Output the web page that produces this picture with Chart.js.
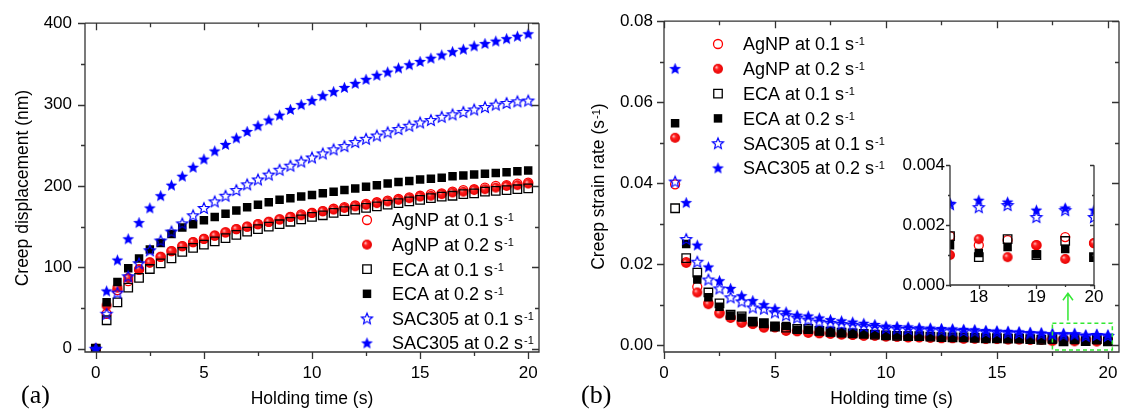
<!DOCTYPE html>
<html>
<head>
<meta charset="utf-8">
<script src="https://cdn.jsdelivr.net/npm/chart.js@4.4.1/dist/chart.umd.min.js"></script>
<style>
html, body { margin: 0; padding: 0; background: #fff; }
#wrap { position: relative; width: 1121px; height: 418px; overflow: hidden; }
canvas { position: absolute; }
</style>
</head>
<body>
<div id="wrap">
	<canvas id="chartA" width="560" height="418" style="left:0;top:0"></canvas>
	<canvas id="chartB" width="580" height="418" style="left:560px;top:0"></canvas>
	<canvas id="chartC" width="210" height="160" style="left:900px;top:150px"></canvas>
</div>
<script>
// ---- data ----
var seriesNames = ['AgNP at 0.1 s', 'AgNP at 0.2 s', 'ECA at 0.1 s', 'ECA at 0.2 s', 'SAC305 at 0.1 s', 'SAC305 at 0.2 s'];

var timeA = [0, 0.5, 1, 1.5, 2, 2.5, 3, 3.5, 4, 4.5, 5, 5.5, 6, 6.5, 7, 7.5, 8, 8.5, 9, 9.5, 10,
	10.5, 11, 11.5, 12, 12.5, 13, 13.5, 14, 14.5, 15, 15.5, 16, 16.5, 17, 17.5, 18, 18.5, 19, 19.5, 20];
var dispAg01 = [0, 43, 72, 83, 97, 106, 113, 120, 126, 131, 135, 139, 143, 147, 150, 153, 156, 159, 162, 165, 167,
	169, 172, 174, 176, 178, 180, 182, 184, 186, 188, 190, 191, 193, 195, 196, 198, 200, 201, 203, 204];
var dispAg02 = [0, 53, 75, 87, 98, 106, 113, 120, 126, 131, 135, 139, 143, 147, 150, 153, 156, 159, 162, 164, 167,
	169, 171, 173, 175, 177, 179, 181, 183, 185, 187, 188, 190, 192, 193, 195, 196, 198, 200, 201, 203];
var dispEca01 = [0, 35, 57, 75, 87, 98, 105, 111, 119, 124, 128, 132, 136, 140, 144, 147, 150, 153, 156, 159, 162,
	164, 167, 169, 171, 173, 175, 177, 179, 181, 183, 185, 187, 188, 190, 191, 193, 194, 195, 196, 197];
var dispEca02 = [0, 57, 82, 99, 111, 122, 130, 141, 149, 153, 158, 162, 166, 170, 174, 177, 180, 183, 185, 187, 189,
	191, 193, 195, 197, 199, 201, 203, 205, 206, 208, 209, 210, 212, 213, 214, 215, 216, 217, 218, 219];
var dispSac01 = [0, 43, 69, 89, 105, 121, 133, 144, 154, 164, 173, 181, 188, 195, 202, 208, 214, 220, 225, 230, 235,
	240, 245, 249, 254, 258, 262, 266, 270, 274, 278, 281, 285, 288, 291, 294, 297, 300, 302, 304, 305];
var dispSac02 = [0, 71, 109, 135, 155, 173, 188, 201, 212, 223, 233, 243, 251, 259, 267, 274, 281, 287, 294, 300, 305,
	311, 316, 321, 326, 331, 336, 340, 345, 349, 353, 357, 361, 365, 368, 372, 375, 378, 381, 384, 387];

var timeB = [0.5, 1, 1.5, 2, 2.5, 3, 3.5, 4, 4.5, 5, 5.5, 6, 6.5, 7, 7.5, 8, 8.5, 9, 9.5, 10,
	10.5, 11, 11.5, 12, 12.5, 13, 13.5, 14, 14.5, 15, 15.5, 16, 16.5, 17, 17.5, 18, 18.5, 19, 19.5, 20];
var rateAg01 = [.0397, .0205, .0144, .0104, .0080, .0069, .0057, .0053, .0045, .0044, .0037, .0035, .0032, .0030, .0029,
	.0027, .0026, .0024, .0024, .0022, .0021, .0020, .0020, .0019, .0018, .0018, .0017, .0017, .0016, .0016,
	.0015, .0015, .0014, .0014, .00163, .00133, .00150, .00133, .00160, .00140];
var rateAg02 = [.0512, .0203, .0130, .0101, .0078, .0067, .0055, .0052, .0043, .0045, .0035, .0034, .0030, .0029, .0028,
	.0026, .0025, .0023, .0023, .0021, .0021, .0019, .0019, .0018, .0017, .0017, .0016, .0016, .0015, .0015,
	.0014, .0014, .0013, .0013, .00100, .00153, .00093, .00133, .00087, .00140];
var rateEca01 = [.0338, .0215, .0179, .0130, .0103, .0075, .0071, .0058, .0054, .0046, .0043, .0040, .0040, .0035, .0033,
	.0031, .0029, .0028, .0026, .0024, .0023, .0022, .0022, .0021, .0020, .0019, .0019, .0018, .0017, .0017,
	.0016, .0016, .0015, .0013, .00163, .00093, .00153, .00100, .00147, .00093];
var rateEca02 = [.0548, .0250, .0162, .0118, .0095, .0073, .0068, .0058, .0054, .0046, .0047, .0038, .0038, .0034, .0032,
	.0030, .0029, .0028, .0027, .0025, .0024, .0023, .0022, .0021, .0020, .0020, .0019, .0018, .0018, .0017,
	.0016, .0016, .0015, .0014, .00133, .00107, .00127, .00103, .00120, .00093];
var rateSac01 = [.0404, .0262, .0206, .0162, .0140, .0118, .0108, .0093, .0090, .0081, .0074, .0068, .0063, .0058, .0055,
	.0052, .0050, .0047, .0045, .0042, .0041, .0040, .0039, .0038, .0037, .0036, .0035, .0034, .0033, .0032,
	.0031, .0030, .0029, .0028, .0027, .0026, .00267, .00227, .0025, .00227];
var rateSac02 = [.0683, .0352, .0247, .0193, .0159, .0140, .0122, .0110, .0100, .0090, .0082, .0074, .0072, .0067, .0063,
	.0060, .0057, .0054, .0051, .0047, .0046, .0045, .0043, .0042, .0041, .0040, .0039, .0038, .0036, .0035,
	.0034, .0033, .0031, .0030, .00273, .00283, .00277, .0025, .00257, .0025];

// ticks
var xTicks = [0, 5, 10, 15, 20];
var xMinor = [2.5, 7.5, 12.5, 17.5];
var yTicksA = [0, 100, 200, 300, 400];
var yMinorA = [50, 150, 250, 350];
var yTicksB = [0, 0.02, 0.04, 0.06, 0.08];
var yMinorB = [0.01, 0.03, 0.05, 0.07];
var xTicksC = [18, 19, 20];
var xMinorC = [17.5, 18.5, 19.5];
var yTicksC = [0, 0.002, 0.004];
var yMinorC = [0.001, 0.003];

var FONT = 'Arial, "Liberation Sans", sans-serif';
var SERIF = '"Times New Roman", "Liberation Serif", serif';

// ---- marker images ----
function makeStar(R, filled) {
	var c = document.createElement('canvas');
	var s = Math.ceil(2 * R + 4);
	c.width = c.height = s;
	var g = c.getContext('2d');
	g.beginPath();
	for (var i = 0; i < 10; i++) {
		var ang = -Math.PI / 2 + i * Math.PI / 5;
		var r = i % 2 ? R * 0.45 : R;
		g.lineTo(s / 2 + r * Math.cos(ang), s / 2 + 0.5 + r * Math.sin(ang));
	}
	g.closePath();
	if (filled) {
		g.fillStyle = '#0000ff';
		g.fill();
	} else {
		g.strokeStyle = '#0000ff';
		g.lineWidth = 1.2;
		g.stroke();
	}
	return c;
}

function makeBall(r) {
	var c = document.createElement('canvas');
	c.width = c.height = 2 * r + 2;
	var g = c.getContext('2d');
	var m = r + 1;
	var grd = g.createRadialGradient(m - r * 0.35, m - r * 0.35, 0.3, m, m, r);
	grd.addColorStop(0, '#ffc0c0');
	grd.addColorStop(0.35, '#ff2020');
	grd.addColorStop(1, '#e60000');
	g.fillStyle = grd;
	g.beginPath();
	g.arc(m, m, r, 0, 2 * Math.PI);
	g.fill();
	return c;
}

var starOpen = makeStar(5.8, false);
var starFull = makeStar(6.2, true);
var ball = makeBall(5);

var styles = [
	{ pointStyle: 'circle', radius: 4.5, borderWidth: 1.3, border: '#ff0000', fill: 'rgba(0,0,0,0)' },
	{ pointStyle: ball, radius: 5, borderWidth: 0, border: '#ff0000', fill: '#ff0000' },
	{ pointStyle: 'rect', radius: 6, borderWidth: 1.3, border: '#000000', fill: 'rgba(0,0,0,0)' },
	{ pointStyle: 'rect', radius: 6, borderWidth: 0, border: '#000000', fill: '#000000' },
	{ pointStyle: starOpen, radius: 6, borderWidth: 0, border: '#0000ff', fill: '#0000ff' },
	{ pointStyle: starFull, radius: 6, borderWidth: 0, border: '#0000ff', fill: '#0000ff' }
];
var drawOrder = [5, 4, 3, 2, 1, 0];

function makeSets(xs, seriesList, clip) {
	return seriesList.map(function (ys, i) {
		var st = styles[i];
		var set = {
			label: seriesNames[i],
			data: xs.map(function (x, j) { return { x: x, y: ys[j] }; }),
			pointStyle: st.pointStyle,
			pointRadius: st.radius,
			pointBorderWidth: st.borderWidth,
			pointBorderColor: st.border,
			pointBackgroundColor: st.fill,
			showLine: false,
			order: drawOrder[i]
		};
		if (clip !== undefined) set.clip = clip;
		return set;
	});
}

// ---- helpers ----
function supText(ctx, x, y, base, sup, tail, size, align) {
	var supSize = Math.round(size * 0.62);
	ctx.font = size + 'px ' + FONT;
	var w1 = ctx.measureText(base).width;
	var w3 = ctx.measureText(tail).width;
	ctx.font = supSize + 'px ' + FONT;
	var w2 = ctx.measureText(sup).width;
	var x0 = align === 'center' ? x - (w1 + w2 + w3 + 1) / 2 : x;
	ctx.textAlign = 'left';
	ctx.textBaseline = 'alphabetic';
	var baseY = y + 0.358 * size;
	ctx.font = size + 'px ' + FONT;
	ctx.fillText(base, x0, baseY);
	ctx.font = supSize + 'px ' + FONT;
	ctx.fillText(sup, x0 + w1 + 1, y - 0.358 * size + 0.716 * supSize);
	ctx.font = size + 'px ' + FONT;
	ctx.fillText(tail, x0 + w1 + w2 + 1, baseY);
}

function frame(o) {
	return {
		id: 'frame',
		afterDatasetsDraw: function (chart) {
			var ctx = chart.ctx, a = chart.chartArea, sx = chart.scales.x, sy = chart.scales.y;
			ctx.save();
			ctx.strokeStyle = '#333';
			ctx.lineWidth = 1.3;
			ctx.beginPath();
			if (o.top) {
				ctx.moveTo(a.left, a.top);
				ctx.lineTo(a.right, a.top);
			}
			ctx.moveTo(a.left, a.top);
			ctx.lineTo(a.left, a.bottom);
			ctx.lineTo(a.right, a.bottom);
			ctx.lineTo(a.right, a.top);
			function xt(vals, len) {
				vals.forEach(function (v) {
					var p = Math.round(sx.getPixelForValue(v)) + 0.5;
					ctx.moveTo(p, a.bottom);
					ctx.lineTo(p, a.bottom + len);
					if (o.top) {
						ctx.moveTo(p, a.top);
						ctx.lineTo(p, a.top + len);
					}
				});
			}
			function yt(vals, len) {
				vals.forEach(function (v) {
					var p = Math.round(sy.getPixelForValue(v)) + 0.5;
					ctx.moveTo(a.left, p);
					ctx.lineTo(a.left - len, p);
					ctx.moveTo(a.right, p);
					ctx.lineTo(a.right - len, p);
				});
			}
			xt(o.xMajor, o.major);
			xt(o.xMinor, o.minor);
			yt(o.yMajor, o.major);
			yt(o.yMinor, o.minor);
			ctx.stroke();
			ctx.restore();
		}
	};
}

function decor(o) {
	return {
		id: 'decor',
		afterDraw: function (chart) {
			var ctx = chart.ctx, a = chart.chartArea;
			ctx.save();
			ctx.fillStyle = '#000';
			// x title
			ctx.font = '17.5px ' + FONT;
			ctx.textAlign = 'center';
			ctx.textBaseline = 'middle';
			ctx.fillText('Holding time (s)', (a.left + a.right) / 2, 399);
			// panel letter
			ctx.font = '26px ' + SERIF;
			ctx.textAlign = 'left';
			ctx.fillText(o.letter, 21, 396);
			// y title
			ctx.save();
			ctx.translate(o.yTitleX, (a.top + a.bottom) / 2);
			ctx.rotate(-Math.PI / 2);
			supText(ctx, 0, 0, o.yTitle[0], o.yTitle[1], o.yTitle[2], 17.5, 'center');
			ctx.restore();
			// legend
			var helpers = Chart.helpers;
			seriesNames.forEach(function (name, i) {
				var y = o.legendY + i * o.legendStep;
				var st = styles[i];
				ctx.fillStyle = st.fill;
				ctx.strokeStyle = st.border;
				ctx.lineWidth = st.borderWidth;
				helpers.drawPoint(ctx, { pointStyle: st.pointStyle, radius: st.radius, rotation: 0, borderWidth: st.borderWidth }, o.legendMarkX, y);
				ctx.fillStyle = '#000';
				supText(ctx, o.legendTextX, y, name, '-1', '', 18, 'left');
			});
			// zoom box and arrow
			if (o.box) {
				var sx = chart.scales.x, sy = chart.scales.y;
				var x1 = sx.getPixelForValue(o.box[0]), x2 = sx.getPixelForValue(o.box[1]);
				var y1 = sy.getPixelForValue(o.box[2]), y2 = sy.getPixelForValue(o.box[3]);
				ctx.strokeStyle = '#33e833';
				ctx.lineWidth = 1.5;
				ctx.setLineDash([4, 3]);
				ctx.strokeRect(x1, y1, x2 - x1, y2 - y1);
				ctx.setLineDash([]);
				var ax = sx.getPixelForValue(o.arrow[0]);
				var ay1 = sy.getPixelForValue(o.arrow[1]), ay2 = sy.getPixelForValue(o.arrow[2]);
				ctx.beginPath();
				ctx.moveTo(ax, ay1);
				ctx.lineTo(ax, ay2);
				ctx.moveTo(ax - 5, ay2 + 7);
				ctx.lineTo(ax, ay2);
				ctx.lineTo(ax + 5, ay2 + 7);
				ctx.stroke();
			}
			ctx.restore();
		}
	};
}

function axis(min, max, ticks, fmt, pad, size) {
	return {
		type: 'linear',
		min: min,
		max: max,
		grid: { display: false, drawTicks: false },
		border: { display: false },
		afterBuildTicks: function (s) { s.ticks = ticks.map(function (v) { return { value: v }; }); },
		afterFit: function (s) {
			if (s.isHorizontal()) s.height = size; else s.width = size;
		},
		ticks: {
			color: '#000',
			font: { family: FONT, size: 17 },
			padding: pad,
			maxRotation: 0,
			autoSkip: false,
			callback: fmt
		}
	};
}

function baseOptions(padding, scales) {
	return {
		responsive: false,
		animation: false,
		events: [],
		layout: { padding: padding },
		scales: scales,
		plugins: { legend: { display: false }, tooltip: { enabled: false } }
	};
}

// ---- panel (a) ----
new Chart(document.getElementById('chartA'), {
	type: 'scatter',
	data: { datasets: makeSets(timeA, [dispAg01, dispAg02, dispEca01, dispEca02, dispSac01, dispSac02]) },
	options: baseOptions({ top: 18, right: 21, left: 0, bottom: 0 }, {
		x: axis(-0.5, 20.5, xTicks, function (v) { return String(v); }, 11, 66),
		y: axis(-4, 400, yTicksA, function (v) { return String(v); }, 13, 85)
	}),
	plugins: [
		frame({ top: true, xMajor: xTicks, xMinor: xMinor, yMajor: yTicksA, yMinor: yMinorA, major: 7, minor: 4 }),
		decor({
			letter: '(a)', yTitleX: 22, yTitle: ['Creep displacement (nm)', '', ''],
			legendY: 220, legendStep: 24.6, legendMarkX: 367, legendTextX: 392
		})
	]
});

// ---- panel (b) ----
new Chart(document.getElementById('chartB'), {
	type: 'scatter',
	data: { datasets: makeSets(timeB, [rateAg01, rateAg02, rateEca01, rateEca02, rateSac01, rateSac02]) },
	options: baseOptions({ top: 18, right: 21, left: 0, bottom: 0 }, {
		x: axis(0, 20.5, xTicks, function (v) { return String(v); }, 11, 66),
		y: axis(-0.0017, 0.08, yTicksB, function (v) { return v.toFixed(2); }, 11, 104)
	}),
	plugins: [
		frame({ top: true, xMajor: xTicks, xMinor: xMinor, yMajor: yTicksB, yMinor: yMinorB, major: 7, minor: 4 }),
		decor({
			letter: '(b)', yTitleX: 38, yTitle: ['Creep strain rate (s', '-1', ')'],
			legendY: 44, legendStep: 24.8, legendMarkX: 158, legendTextX: 183,
			box: [17.5, 20.2, 0.0054, -0.0012], arrow: [18.2, 0.0061, 0.0128]
		})
	]
});

// ---- inset ----
new Chart(document.getElementById('chartC'), {
	type: 'scatter',
	data: { datasets: makeSets(timeB, [rateAg01, rateAg02, rateEca01, rateEca02, rateSac01, rateSac02], 0) },
	options: baseOptions({ top: 15, right: 16, left: 0, bottom: 0 }, {
		x: axis(17.5, 20, xTicksC, function (v) { return String(v); }, 2, 25),
		y: axis(0, 0.004, yTicksC, function (v) { return v.toFixed(3); }, 5, 50)
	}),
	plugins: [
		frame({ top: false, xMajor: xTicksC, xMinor: xMinorC, yMajor: yTicksC, yMinor: yMinorC, major: 4, minor: 2 })
	]
});
</script>
</body>
</html>
